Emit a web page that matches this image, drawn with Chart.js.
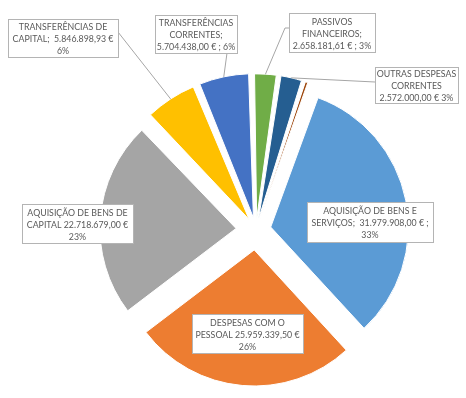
<!DOCTYPE html>
<html>
<head>
<meta charset="utf-8">
<style>
  html, body { margin: 0; padding: 0; background: #fff; }
</style>
</head>
<body>
<canvas id="despesas" width="466" height="398"></canvas>
<script src="https://cdn.jsdelivr.net/npm/chart.js@4.4.0/dist/chart.umd.min.js"></script>
<script>
  const categories = [
    'Aquisição de bens e serviços',
    'Despesas com o pessoal',
    'Aquisição de bens de capital',
    'Transferências de capital',
    'Transferências correntes',
    'Passivos financeiros',
    'Outras despesas correntes',
    'Outras'
  ];

  const values = [31979908.00, 25959339.50, 22718679.00, 5846898.93, 5704438.00, 2658181.61, 2572000.00, 600000.00];

  // texto das etiquetas, {v} = valor, {p} = percentagem
  const labelText = [
    ['AQUISIÇÃO DE BENS E', 'SERVIÇOS;  {v} € ;', '{p}%'],
    ['DESPESAS COM O', 'PESSOAL {v} €', '{p}%'],
    ['AQUISIÇÃO DE BENS DE', 'CAPITAL {v} €', '{p}%'],
    ['TRANSFERÊNCIAS DE', 'CAPITAL;  {v} €', '{p}%'],
    ['TRANSFERÊNCIAS', 'CORRENTES;', '{v} € ; {p}%'],
    ['PASSIVOS', 'FINANCEIROS;', '{v} € ; {p}%'],
    ['OUTRAS DESPESAS', 'CORRENTES', '{v} € {p}%'],
    null
  ];

  const colors = ['#5B9BD5', '#ED7D31', '#A5A5A5', '#FFC000', '#4472C4', '#70AD47', '#255E91', '#9E480E'];
  const explode = [60, 80, 80, 50, 50, 44, 44, 41];

  // caixas das etiquetas e pontos de saida das linhas de chamada
  const boxes = [
    {x: 307, y: 202, w: 126, h: 40},
    {x: 192, y: 314, w: 111, h: 39},
    {x: 22, y: 204, w: 111, h: 39},
    {x: 8, y: 19, w: 110, h: 38, lead: [[118, 32]]},
    {x: 155, y: 15, w: 82, h: 38, lead: [[227, 53]]},
    {x: 289, y: 13, w: 86, h: 39, lead: [[289, 28], [285, 28]]},
    {x: 375, y: 67, w: 83, h: 36, lead: [[375, 82]]},
    null
  ];

  const total = values.reduce((a, b) => a + b, 0);

  function fmt(v) {
    const parts = v.toFixed(2).split('.');
    return parts[0].replace(/\B(?=(\d{3})+(?!\d))/g, '.') + ',' + parts[1];
  }

  const calloutPlugin = {
    id: 'callouts',
    afterDatasetsDraw: (chart) => {
      const {ctx} = chart;
      const meta = chart.getDatasetMeta(0);
      ctx.save();
      ctx.font = '10px Lato';
      ctx.textAlign = 'center';
      ctx.textBaseline = 'middle';
      meta.data.forEach((arc, i) => {
        const box = boxes[i];
        if (!box) return;
        const lines = labelText[i].map(s => s
          .replace('{v}', fmt(values[i]))
          .replace('{p}', Math.round(values[i] / total * 100)));

        if (box.lead) {
          const {x, y, startAngle, endAngle, outerRadius} = arc.getProps(['x', 'y', 'startAngle', 'endAngle', 'outerRadius'], true);
          const mid = (startAngle + endAngle) / 2;
          const t = (arc.options.offset || 0) / 4;
          const fix = 1 - Math.sin(Math.min(Math.PI, endAngle - startAngle));
          const dist = outerRadius + t + t * fix;
          ctx.strokeStyle = '#a6a6a6';
          ctx.lineWidth = 1;
          ctx.beginPath();
          ctx.moveTo(box.lead[0][0], box.lead[0][1]);
          box.lead.slice(1).forEach(p => ctx.lineTo(p[0], p[1]));
          ctx.lineTo(x + Math.cos(mid) * dist, y + Math.sin(mid) * dist);
          ctx.stroke();
        }

        ctx.fillStyle = '#ffffff';
        ctx.fillRect(box.x, box.y, box.w, box.h);
        ctx.strokeStyle = '#b4b4b4';
        ctx.lineWidth = 1;
        ctx.strokeRect(box.x + 0.5, box.y + 0.5, box.w, box.h);

        ctx.fillStyle = '#595959';
        const cx = box.x + box.w / 2;
        const cy = box.y + box.h / 2 + 1;
        lines.forEach((s, k) => {
          // texto um pouco estreitado, como a Calibri do original
          ctx.save();
          ctx.translate(cx, cy + (k - 1) * 12);
          ctx.scale(0.88, 1);
          ctx.fillText(s, 0, 0);
          ctx.restore();
        });
      });
      ctx.restore();
    }
  };

  const config = {
    type: 'pie',
    data: {
      labels: categories,
      datasets: [{
        data: values,
        backgroundColor: colors,
        borderColor: '#ffffff',
        borderWidth: 1,
        offset: explode,
        clip: false
      }]
    },
    plugins: [calloutPlugin],
    options: {
      responsive: false,
      animation: false,
      rotation: 20,
      radius: 136,
      layout: {
        padding: {left: 46, top: 62, right: 0, bottom: 0}
      },
      plugins: {
        legend: {display: false},
        tooltip: {enabled: false}
      }
    }
  };

  const despesasChart = new Chart(
    document.getElementById('despesas'),
    config
  );
</script>
</body>
</html>
